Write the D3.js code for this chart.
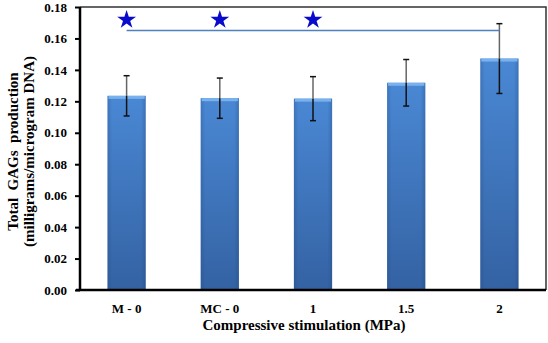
<!DOCTYPE html>
<html>
<head>
<meta charset="utf-8">
<script src="https://cdn.jsdelivr.net/npm/d3@7"></script>
<style>
  body { margin: 0; background: #fff; }
  text { font-family: "Liberation Serif", "Times New Roman", serif; font-weight: bold; }
</style>
</head>
<body>
<div class="chart"></div>
<script>
var w = 548,
  h = 343,
  margin = { top: 7, right: 2, bottom: 53, left: 80 };

// chart data
var groups = ['M - 0', 'MC - 0', '1', '1.5', '2'];
var means = [0.1235, 0.1220, 0.1217, 0.1318, 0.1472];
var errs = [0.0128, 0.0128, 0.0140, 0.0148, 0.0222];
var yTicks = [0, 0.02, 0.04, 0.06, 0.08, 0.10, 0.12, 0.14, 0.16, 0.18];
var sigLevel = 0.165;
var starLevel = 0.1725;
var starred = ['M - 0', 'MC - 0', '1'];

var iw = w - margin.left - margin.right,
  ih = h - margin.top - margin.bottom;

var svg = d3.select('.chart')
  .append('svg')
  .attr('width', w)
  .attr('height', h);

// bar gradients
var defs = svg.append('defs');
var grad = defs.append('linearGradient')
  .attr('id', 'barFill')
  .attr('x1', 0).attr('y1', 0).attr('x2', 0).attr('y2', 1);
grad.append('stop').attr('offset', '0%').attr('stop-color', '#4a88d4');
grad.append('stop').attr('offset', '100%').attr('stop-color', '#3462a3');

var side = defs.append('linearGradient')
  .attr('id', 'barSide')
  .attr('x1', 0).attr('y1', 0).attr('x2', 1).attr('y2', 0);
side.append('stop').attr('offset', '0%').attr('stop-color', '#1d3f72').attr('stop-opacity', 0.25);
side.append('stop').attr('offset', '12%').attr('stop-color', '#1d3f72').attr('stop-opacity', 0);
side.append('stop').attr('offset', '88%').attr('stop-color', '#1d3f72').attr('stop-opacity', 0);
side.append('stop').attr('offset', '100%').attr('stop-color', '#1d3f72').attr('stop-opacity', 0.3);

var g = svg.append('g')
  .attr('transform', 'translate(' + margin.left + ',' + margin.top + ')');

var x = d3.scaleBand()
  .domain(groups)
  .range([0, iw])
  .paddingInner(0.59)
  .paddingOuter(0.295);

var y = d3.scaleLinear()
  .domain([0, 0.18])
  .range([ih, 0]);

var cx = function (d) { return x(d) + x.bandwidth() / 2; };

// frame top and right
g.append('path')
  .attr('d', 'M0,0H' + iw + 'V' + ih)
  .attr('fill', 'none')
  .attr('stroke', '#333')
  .attr('stroke-width', 1.5);

// bars
var bars = g.selectAll('.bar')
  .data(groups)
  .enter()
  .append('g')
  .attr('class', 'bar');

bars.append('rect')
  .attr('x', function (d) { return x(d); })
  .attr('y', function (d, i) { return y(means[i]); })
  .attr('width', x.bandwidth())
  .attr('height', function (d, i) { return ih - y(means[i]); })
  .attr('fill', 'url(#barFill)');

bars.append('rect')
  .attr('x', function (d) { return x(d); })
  .attr('y', function (d, i) { return y(means[i]); })
  .attr('width', x.bandwidth())
  .attr('height', function (d, i) { return ih - y(means[i]); })
  .attr('fill', 'url(#barSide)');

// bevel highlight on bar tops
bars.append('rect')
  .attr('x', function (d) { return x(d) + 1; })
  .attr('y', function (d, i) { return y(means[i]); })
  .attr('width', x.bandwidth() - 2)
  .attr('height', 3)
  .attr('fill', '#79b1ee');

// error bars: grey above the bar, black inside it
var cap = 3;
bars.append('line')
  .attr('x1', cx)
  .attr('x2', cx)
  .attr('y1', function (d, i) { return y(means[i] + errs[i]); })
  .attr('y2', function (d, i) { return y(means[i]); })
  .attr('stroke', '#666')
  .attr('stroke-width', 1.5);

bars.append('line')
  .attr('x1', cx)
  .attr('x2', cx)
  .attr('y1', function (d, i) { return y(means[i]); })
  .attr('y2', function (d, i) { return y(means[i] - errs[i]); })
  .attr('stroke', '#111')
  .attr('stroke-width', 1.5);

[1, -1].forEach(function (s) {
  bars.append('line')
    .attr('x1', function (d) { return cx(d) - cap; })
    .attr('x2', function (d) { return cx(d) + cap; })
    .attr('y1', function (d, i) { return y(means[i] + s * errs[i]); })
    .attr('y2', function (d, i) { return y(means[i] + s * errs[i]); })
    .attr('stroke', '#111')
    .attr('stroke-width', 1.5);
});

// significance line and stars
g.append('line')
  .attr('x1', cx(groups[0]))
  .attr('x2', cx(groups[groups.length - 1]))
  .attr('y1', y(sigLevel))
  .attr('y2', y(sigLevel))
  .attr('stroke', '#4f81bd')
  .attr('stroke-width', 1.5);

var star = d3.symbol().type(d3.symbolStar).size(110);
g.selectAll('.star')
  .data(starred)
  .enter()
  .append('path')
  .attr('class', 'star')
  .attr('d', star)
  .attr('transform', function (d) {
    return 'translate(' + cx(d) + ',' + (y(starLevel) + 1) + ')';
  })
  .attr('fill', '#0a0acc');

// axes
var yAxis = g.append('g')
  .call(d3.axisLeft(y)
    .tickValues(yTicks)
    .tickSize(5)
    .tickPadding(8)
    .tickFormat(d3.format('.2f')));

var xAxis = g.append('g')
  .attr('transform', 'translate(0,' + ih + ')')
  .call(d3.axisBottom(x).tickSize(0).tickPadding(14));

[yAxis, xAxis].forEach(function (a) {
  a.select('.domain').attr('stroke', '#000').attr('stroke-width', 2.5);
  a.selectAll('.tick line').attr('stroke', '#000').attr('stroke-width', 2);
  a.selectAll('.tick text')
    .attr('fill', '#000')
    .style('font-family', '"Liberation Serif", serif')
    .style('font-weight', 'bold')
    .style('font-size', '13px');
});
yAxis.select('.domain').attr('d', 'M0,0V' + ih);
xAxis.select('.domain').attr('d', 'M-4,0H' + iw);

// axis titles
svg.append('text')
  .attr('x', 304)
  .attr('y', 330)
  .attr('text-anchor', 'middle')
  .attr('font-size', '15px')
  .attr('fill', '#000')
  .text('Compressive stimulation (MPa)');

var yt = svg.append('text')
  .attr('transform', 'translate(0,' + (margin.top + ih / 2 + 3) + ') rotate(-90)')
  .attr('text-anchor', 'middle')
  .attr('font-size', '15px')
  .attr('fill', '#000');
yt.append('tspan')
  .attr('x', 0)
  .attr('y', 18)
  .attr('xml:space', 'preserve')
  .style('white-space', 'pre')
  .text('Total  GAGs  production');
yt.append('tspan')
  .attr('x', 0)
  .attr('y', 34)
  .text('(milligrams/microgram DNA)');
</script>
</body>
</html>
